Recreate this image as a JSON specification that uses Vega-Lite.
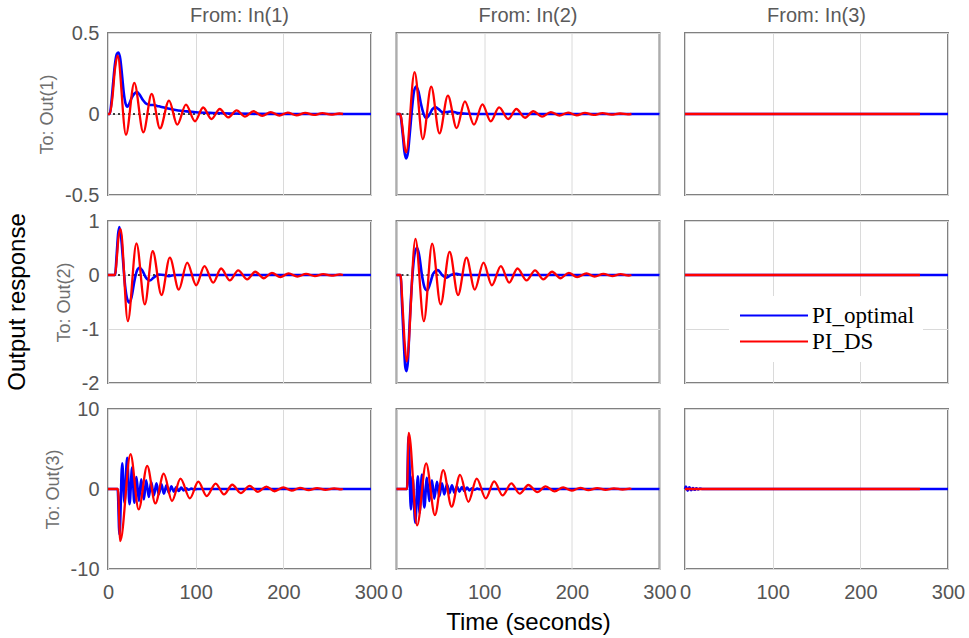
{
"$schema": "https://vega.github.io/schema/vega-lite/v6.json",
"background": "white",
"datasets": {"d": [
{"p":"11","s":"PI_optimal","t":0,"y":0},{"p":"11","s":"PI_optimal","t":2,"y":0},{"p":"11","s":"PI_optimal","t":4,"y":0.08},{"p":"11","s":"PI_optimal","t":6,"y":0.2},{"p":"11","s":"PI_optimal","t":8,"y":0.31},{"p":"11","s":"PI_optimal","t":10,"y":0.37},{"p":"11","s":"PI_optimal","t":12,"y":0.38},{"p":"11","s":"PI_optimal","t":14,"y":0.34},{"p":"11","s":"PI_optimal","t":16,"y":0.24},{"p":"11","s":"PI_optimal","t":18,"y":0.13},{"p":"11","s":"PI_optimal","t":20,"y":0.065},{"p":"11","s":"PI_optimal","t":22,"y":0.045},{"p":"11","s":"PI_optimal","t":24,"y":0.06},{"p":"11","s":"PI_optimal","t":27,"y":0.1},{"p":"11","s":"PI_optimal","t":30,"y":0.125},{"p":"11","s":"PI_optimal","t":33,"y":0.135},{"p":"11","s":"PI_optimal","t":36,"y":0.12},{"p":"11","s":"PI_optimal","t":40,"y":0.085},{"p":"11","s":"PI_optimal","t":44,"y":0.062},{"p":"11","s":"PI_optimal","t":48,"y":0.056},{"p":"11","s":"PI_optimal","t":52,"y":0.056},{"p":"11","s":"PI_optimal","t":56,"y":0.05},{"p":"11","s":"PI_optimal","t":60,"y":0.045},{"p":"11","s":"PI_optimal","t":65,"y":0.038},{"p":"11","s":"PI_optimal","t":70,"y":0.032},{"p":"11","s":"PI_optimal","t":80,"y":0.022},{"p":"11","s":"PI_optimal","t":90,"y":0.016},{"p":"11","s":"PI_optimal","t":100,"y":0.011},{"p":"11","s":"PI_optimal","t":120,"y":0.006},{"p":"11","s":"PI_optimal","t":140,"y":0.003},{"p":"11","s":"PI_optimal","t":170,"y":0.001},{"p":"11","s":"PI_optimal","t":200,"y":0},{"p":"11","s":"PI_optimal","t":300,"y":0},
{"p":"11","s":"PI_DS","t":0,"y":0},{"p":"11","s":"PI_DS","t":2,"y":0},{"p":"11","s":"PI_DS","t":5,"y":0.1},{"p":"11","s":"PI_DS","t":8,"y":0.28},{"p":"11","s":"PI_DS","t":11,"y":0.36},{"p":"11","s":"PI_DS","t":20.5,"y":-0.128},{"p":"11","s":"PI_DS","t":30,"y":0.192},{"p":"11","s":"PI_DS","t":40.3,"y":-0.113},{"p":"11","s":"PI_DS","t":49.8,"y":0.124},{"p":"11","s":"PI_DS","t":59.3,"y":-0.089},{"p":"11","s":"PI_DS","t":69.6,"y":0.083},{"p":"11","s":"PI_DS","t":79,"y":-0.066},{"p":"11","s":"PI_DS","t":88.9,"y":0.058},{"p":"11","s":"PI_DS","t":99.2,"y":-0.045},{"p":"11","s":"PI_DS","t":108.5,"y":0.04},{"p":"11","s":"PI_DS","t":118,"y":-0.031},{"p":"11","s":"PI_DS","t":127.5,"y":0.031},{"p":"11","s":"PI_DS","t":137,"y":-0.021},{"p":"11","s":"PI_DS","t":146.7,"y":0.022},{"p":"11","s":"PI_DS","t":156.3,"y":-0.016},{"p":"11","s":"PI_DS","t":166,"y":0.017},{"p":"11","s":"PI_DS","t":176,"y":-0.012},{"p":"11","s":"PI_DS","t":185.6,"y":0.012},{"p":"11","s":"PI_DS","t":195.5,"y":-0.01},{"p":"11","s":"PI_DS","t":205,"y":0.009},{"p":"11","s":"PI_DS","t":215,"y":-0.008},{"p":"11","s":"PI_DS","t":225,"y":0.007},{"p":"11","s":"PI_DS","t":235,"y":-0.006},{"p":"11","s":"PI_DS","t":244.5,"y":0.005},{"p":"11","s":"PI_DS","t":254.5,"y":-0.004},{"p":"11","s":"PI_DS","t":264,"y":0.003},{"p":"11","s":"PI_DS","t":268,"y":0},
{"p":"12","s":"PI_optimal","t":0,"y":0},{"p":"12","s":"PI_optimal","t":4,"y":0},{"p":"12","s":"PI_optimal","t":7,"y":-0.12},{"p":"12","s":"PI_optimal","t":9,"y":-0.23},{"p":"12","s":"PI_optimal","t":11,"y":-0.274},{"p":"12","s":"PI_optimal","t":13,"y":-0.24},{"p":"12","s":"PI_optimal","t":15,"y":-0.13},{"p":"12","s":"PI_optimal","t":18,"y":0.05},{"p":"12","s":"PI_optimal","t":20,"y":0.14},{"p":"12","s":"PI_optimal","t":22.5,"y":0.169},{"p":"12","s":"PI_optimal","t":25,"y":0.14},{"p":"12","s":"PI_optimal","t":28,"y":0.06},{"p":"12","s":"PI_optimal","t":31,"y":0},{"p":"12","s":"PI_optimal","t":34,"y":-0.025},{"p":"12","s":"PI_optimal","t":38,"y":0},{"p":"12","s":"PI_optimal","t":41,"y":0.03},{"p":"12","s":"PI_optimal","t":44.6,"y":0.041},{"p":"12","s":"PI_optimal","t":48,"y":0.03},{"p":"12","s":"PI_optimal","t":53,"y":0.01},{"p":"12","s":"PI_optimal","t":58,"y":0.012},{"p":"12","s":"PI_optimal","t":62,"y":0.015},{"p":"12","s":"PI_optimal","t":70,"y":0.006},{"p":"12","s":"PI_optimal","t":80,"y":0.002},{"p":"12","s":"PI_optimal","t":100,"y":0},{"p":"12","s":"PI_optimal","t":300,"y":0},
{"p":"12","s":"PI_DS","t":0,"y":0},{"p":"12","s":"PI_DS","t":4,"y":0},{"p":"12","s":"PI_DS","t":11,"y":-0.237},{"p":"12","s":"PI_DS","t":20.6,"y":0.258},{"p":"12","s":"PI_DS","t":30,"y":-0.155},{"p":"12","s":"PI_DS","t":39.6,"y":0.169},{"p":"12","s":"PI_DS","t":49,"y":-0.12},{"p":"12","s":"PI_DS","t":58.6,"y":0.113},{"p":"12","s":"PI_DS","t":68.6,"y":-0.087},{"p":"12","s":"PI_DS","t":78,"y":0.078},{"p":"12","s":"PI_DS","t":88.4,"y":-0.066},{"p":"12","s":"PI_DS","t":98,"y":0.06},{"p":"12","s":"PI_DS","t":107.5,"y":-0.045},{"p":"12","s":"PI_DS","t":117,"y":0.041},{"p":"12","s":"PI_DS","t":127.6,"y":-0.031},{"p":"12","s":"PI_DS","t":136.7,"y":0.031},{"p":"12","s":"PI_DS","t":146.6,"y":-0.023},{"p":"12","s":"PI_DS","t":156,"y":0.017},{"p":"12","s":"PI_DS","t":166,"y":-0.016},{"p":"12","s":"PI_DS","t":176,"y":0.012},{"p":"12","s":"PI_DS","t":186,"y":-0.01},{"p":"12","s":"PI_DS","t":195.7,"y":0.009},{"p":"12","s":"PI_DS","t":205.5,"y":-0.008},{"p":"12","s":"PI_DS","t":215,"y":0.007},{"p":"12","s":"PI_DS","t":225,"y":-0.006},{"p":"12","s":"PI_DS","t":235,"y":0.005},{"p":"12","s":"PI_DS","t":245,"y":-0.004},{"p":"12","s":"PI_DS","t":255,"y":0.003},{"p":"12","s":"PI_DS","t":264,"y":-0.002},{"p":"12","s":"PI_DS","t":268,"y":0},
{"p":"13","s":"PI_optimal","t":0,"y":0},{"p":"13","s":"PI_optimal","t":300,"y":0},
{"p":"13","s":"PI_DS","t":0,"y":0},{"p":"13","s":"PI_DS","t":268,"y":0},
{"p":"21","s":"PI_optimal","t":0,"y":0},{"p":"21","s":"PI_optimal","t":8,"y":0},{"p":"21","s":"PI_optimal","t":10,"y":0.4},{"p":"21","s":"PI_optimal","t":11.5,"y":0.75},{"p":"21","s":"PI_optimal","t":13,"y":0.89},{"p":"21","s":"PI_optimal","t":15,"y":0.7},{"p":"21","s":"PI_optimal","t":17,"y":0.3},{"p":"21","s":"PI_optimal","t":19.5,"y":-0.2},{"p":"21","s":"PI_optimal","t":22,"y":-0.45},{"p":"21","s":"PI_optimal","t":24.4,"y":-0.51},{"p":"21","s":"PI_optimal","t":27,"y":-0.4},{"p":"21","s":"PI_optimal","t":30,"y":-0.12},{"p":"21","s":"PI_optimal","t":33,"y":0.08},{"p":"21","s":"PI_optimal","t":35.9,"y":0.135},{"p":"21","s":"PI_optimal","t":39,"y":0.09},{"p":"21","s":"PI_optimal","t":43,"y":-0.04},{"p":"21","s":"PI_optimal","t":47.7,"y":-0.1},{"p":"21","s":"PI_optimal","t":52,"y":-0.05},{"p":"21","s":"PI_optimal","t":58,"y":0.01},{"p":"21","s":"PI_optimal","t":64,"y":0},{"p":"21","s":"PI_optimal","t":69.4,"y":-0.02},{"p":"21","s":"PI_optimal","t":76,"y":0},{"p":"21","s":"PI_optimal","t":300,"y":0},
{"p":"21","s":"PI_DS","t":0,"y":0},{"p":"21","s":"PI_DS","t":8,"y":0},{"p":"21","s":"PI_DS","t":10,"y":0.3},{"p":"21","s":"PI_DS","t":12,"y":0.7},{"p":"21","s":"PI_DS","t":14.3,"y":0.85},{"p":"21","s":"PI_DS","t":22.6,"y":-0.855},{"p":"21","s":"PI_DS","t":32.5,"y":0.586},{"p":"21","s":"PI_DS","t":42,"y":-0.545},{"p":"21","s":"PI_DS","t":51,"y":0.44},{"p":"21","s":"PI_DS","t":61,"y":-0.37},{"p":"21","s":"PI_DS","t":70.5,"y":0.32},{"p":"21","s":"PI_DS","t":80.8,"y":-0.27},{"p":"21","s":"PI_DS","t":90.3,"y":0.23},{"p":"21","s":"PI_DS","t":100.6,"y":-0.19},{"p":"21","s":"PI_DS","t":110,"y":0.165},{"p":"21","s":"PI_DS","t":120,"y":-0.14},{"p":"21","s":"PI_DS","t":129,"y":0.12},{"p":"21","s":"PI_DS","t":139,"y":-0.1},{"p":"21","s":"PI_DS","t":148.5,"y":0.085},{"p":"21","s":"PI_DS","t":158.8,"y":-0.08},{"p":"21","s":"PI_DS","t":168,"y":0.06},{"p":"21","s":"PI_DS","t":177.7,"y":-0.06},{"p":"21","s":"PI_DS","t":187,"y":0.04},{"p":"21","s":"PI_DS","t":196.6,"y":-0.04},{"p":"21","s":"PI_DS","t":206,"y":0.03},{"p":"21","s":"PI_DS","t":216,"y":-0.03},{"p":"21","s":"PI_DS","t":226,"y":0.02},{"p":"21","s":"PI_DS","t":236,"y":-0.02},{"p":"21","s":"PI_DS","t":245.5,"y":0.015},{"p":"21","s":"PI_DS","t":255,"y":-0.012},{"p":"21","s":"PI_DS","t":264.5,"y":0.01},{"p":"21","s":"PI_DS","t":268,"y":0},
{"p":"22","s":"PI_optimal","t":0,"y":0},{"p":"22","s":"PI_optimal","t":4.5,"y":0},{"p":"22","s":"PI_optimal","t":6.5,"y":-0.6},{"p":"22","s":"PI_optimal","t":8.5,"y":-1.3},{"p":"22","s":"PI_optimal","t":10,"y":-1.7},{"p":"22","s":"PI_optimal","t":11.4,"y":-1.78},{"p":"22","s":"PI_optimal","t":13,"y":-1.6},{"p":"22","s":"PI_optimal","t":15,"y":-0.9},{"p":"22","s":"PI_optimal","t":18,"y":-0.05},{"p":"22","s":"PI_optimal","t":21,"y":0.42},{"p":"22","s":"PI_optimal","t":23.6,"y":0.506},{"p":"22","s":"PI_optimal","t":26,"y":0.35},{"p":"22","s":"PI_optimal","t":29,"y":0},{"p":"22","s":"PI_optimal","t":32,"y":-0.23},{"p":"22","s":"PI_optimal","t":35,"y":-0.285},{"p":"22","s":"PI_optimal","t":38.5,"y":-0.15},{"p":"22","s":"PI_optimal","t":42,"y":0.03},{"p":"22","s":"PI_optimal","t":47.2,"y":0.09},{"p":"22","s":"PI_optimal","t":52,"y":0},{"p":"22","s":"PI_optimal","t":57,"y":-0.05},{"p":"22","s":"PI_optimal","t":62,"y":0},{"p":"22","s":"PI_optimal","t":68.6,"y":0.02},{"p":"22","s":"PI_optimal","t":75,"y":0},{"p":"22","s":"PI_optimal","t":300,"y":0},
{"p":"22","s":"PI_DS","t":0,"y":0},{"p":"22","s":"PI_DS","t":4.5,"y":0},{"p":"22","s":"PI_DS","t":7,"y":-0.6},{"p":"22","s":"PI_DS","t":9.5,"y":-1.3},{"p":"22","s":"PI_DS","t":11.6,"y":-1.6},{"p":"22","s":"PI_DS","t":21.6,"y":0.67},{"p":"22","s":"PI_DS","t":31.2,"y":-0.855},{"p":"22","s":"PI_DS","t":40.7,"y":0.58},{"p":"22","s":"PI_DS","t":50.3,"y":-0.545},{"p":"22","s":"PI_DS","t":60.6,"y":0.43},{"p":"22","s":"PI_DS","t":70.2,"y":-0.37},{"p":"22","s":"PI_DS","t":79.8,"y":0.32},{"p":"22","s":"PI_DS","t":89.3,"y":-0.27},{"p":"22","s":"PI_DS","t":99.2,"y":0.23},{"p":"22","s":"PI_DS","t":108.8,"y":-0.19},{"p":"22","s":"PI_DS","t":119,"y":0.165},{"p":"22","s":"PI_DS","t":128.6,"y":-0.14},{"p":"22","s":"PI_DS","t":138,"y":0.12},{"p":"22","s":"PI_DS","t":148.4,"y":-0.1},{"p":"22","s":"PI_DS","t":158,"y":0.085},{"p":"22","s":"PI_DS","t":167.5,"y":-0.08},{"p":"22","s":"PI_DS","t":177.5,"y":0.06},{"p":"22","s":"PI_DS","t":187,"y":-0.06},{"p":"22","s":"PI_DS","t":196.6,"y":0.04},{"p":"22","s":"PI_DS","t":206,"y":-0.04},{"p":"22","s":"PI_DS","t":216.7,"y":0.03},{"p":"22","s":"PI_DS","t":226,"y":-0.03},{"p":"22","s":"PI_DS","t":236,"y":0.02},{"p":"22","s":"PI_DS","t":246,"y":-0.02},{"p":"22","s":"PI_DS","t":255.6,"y":0.015},{"p":"22","s":"PI_DS","t":265,"y":-0.01},{"p":"22","s":"PI_DS","t":268,"y":0},
{"p":"23","s":"PI_optimal","t":0,"y":0},{"p":"23","s":"PI_optimal","t":300,"y":0},
{"p":"23","s":"PI_DS","t":0,"y":0},{"p":"23","s":"PI_DS","t":268,"y":0},
{"p":"31","s":"PI_optimal","t":0,"y":0},{"p":"31","s":"PI_optimal","t":11,"y":0},{"p":"31","s":"PI_optimal","t":13.1,"y":-5.7},{"p":"31","s":"PI_optimal","t":16.2,"y":3.2},{"p":"31","s":"PI_optimal","t":18.8,"y":-1.7},{"p":"31","s":"PI_optimal","t":21.9,"y":3.9},{"p":"31","s":"PI_optimal","t":24.5,"y":-1.9},{"p":"31","s":"PI_optimal","t":27.6,"y":2.7},{"p":"31","s":"PI_optimal","t":30,"y":-1.7},{"p":"31","s":"PI_optimal","t":32.5,"y":1.5},{"p":"31","s":"PI_optimal","t":35.2,"y":-1.5},{"p":"31","s":"PI_optimal","t":37.9,"y":1.2},{"p":"31","s":"PI_optimal","t":40.9,"y":-1.3},{"p":"31","s":"PI_optimal","t":43.5,"y":1.1},{"p":"31","s":"PI_optimal","t":46.6,"y":-1.0},{"p":"31","s":"PI_optimal","t":49.2,"y":0.9},{"p":"31","s":"PI_optimal","t":52.3,"y":-0.8},{"p":"31","s":"PI_optimal","t":55.3,"y":0.7},{"p":"31","s":"PI_optimal","t":57.9,"y":-0.67},{"p":"31","s":"PI_optimal","t":61,"y":0.58},{"p":"31","s":"PI_optimal","t":63.7,"y":-0.58},{"p":"31","s":"PI_optimal","t":66.7,"y":0.46},{"p":"31","s":"PI_optimal","t":69.4,"y":-0.46},{"p":"31","s":"PI_optimal","t":72.4,"y":0.33},{"p":"31","s":"PI_optimal","t":75,"y":-0.33},{"p":"31","s":"PI_optimal","t":78,"y":0.25},{"p":"31","s":"PI_optimal","t":80.7,"y":-0.25},{"p":"31","s":"PI_optimal","t":83.5,"y":0.17},{"p":"31","s":"PI_optimal","t":86.3,"y":-0.17},{"p":"31","s":"PI_optimal","t":89,"y":0.1},{"p":"31","s":"PI_optimal","t":92,"y":-0.1},{"p":"31","s":"PI_optimal","t":95,"y":0.05},{"p":"31","s":"PI_optimal","t":98,"y":-0.05},{"p":"31","s":"PI_optimal","t":102,"y":0},{"p":"31","s":"PI_optimal","t":300,"y":0},
{"p":"31","s":"PI_DS","t":0,"y":0},{"p":"31","s":"PI_DS","t":11.3,"y":0},{"p":"31","s":"PI_DS","t":14,"y":-6.5},{"p":"31","s":"PI_DS","t":25.7,"y":4.35},{"p":"31","s":"PI_DS","t":35,"y":-2.55},{"p":"31","s":"PI_DS","t":44.7,"y":2.9},{"p":"31","s":"PI_DS","t":54,"y":-1.8},{"p":"31","s":"PI_DS","t":63.6,"y":1.93},{"p":"31","s":"PI_DS","t":73,"y":-1.5},{"p":"31","s":"PI_DS","t":82.7,"y":1.3},{"p":"31","s":"PI_DS","t":93.4,"y":-1.17},{"p":"31","s":"PI_DS","t":103,"y":0.92},{"p":"31","s":"PI_DS","t":112.6,"y":-0.88},{"p":"31","s":"PI_DS","t":122.8,"y":0.68},{"p":"31","s":"PI_DS","t":132.3,"y":-0.67},{"p":"31","s":"PI_DS","t":141.8,"y":0.53},{"p":"31","s":"PI_DS","t":151.4,"y":-0.5},{"p":"31","s":"PI_DS","t":161.5,"y":0.4},{"p":"31","s":"PI_DS","t":171,"y":-0.35},{"p":"31","s":"PI_DS","t":180.7,"y":0.3},{"p":"31","s":"PI_DS","t":190,"y":-0.28},{"p":"31","s":"PI_DS","t":200,"y":0.2},{"p":"31","s":"PI_DS","t":209.5,"y":-0.2},{"p":"31","s":"PI_DS","t":219,"y":0.15},{"p":"31","s":"PI_DS","t":229,"y":-0.14},{"p":"31","s":"PI_DS","t":238.5,"y":0.11},{"p":"31","s":"PI_DS","t":248,"y":-0.1},{"p":"31","s":"PI_DS","t":258,"y":0.08},{"p":"31","s":"PI_DS","t":266,"y":-0.05},{"p":"31","s":"PI_DS","t":268,"y":0},
{"p":"32","s":"PI_optimal","t":0,"y":0},{"p":"32","s":"PI_optimal","t":12,"y":0},{"p":"32","s":"PI_optimal","t":13.7,"y":6.6},{"p":"32","s":"PI_optimal","t":16.4,"y":-2.55},{"p":"32","s":"PI_optimal","t":18.3,"y":1.6},{"p":"32","s":"PI_optimal","t":21.4,"y":-4.2},{"p":"32","s":"PI_optimal","t":24.4,"y":1.6},{"p":"32","s":"PI_optimal","t":26.3,"y":-3.0},{"p":"32","s":"PI_optimal","t":29,"y":1.8},{"p":"32","s":"PI_optimal","t":31.7,"y":-2.3},{"p":"32","s":"PI_optimal","t":34.7,"y":1.4},{"p":"32","s":"PI_optimal","t":37.4,"y":-1.5},{"p":"32","s":"PI_optimal","t":40.4,"y":1.1},{"p":"32","s":"PI_optimal","t":43.1,"y":-1.2},{"p":"32","s":"PI_optimal","t":46.2,"y":0.9},{"p":"32","s":"PI_optimal","t":48.8,"y":-0.9},{"p":"32","s":"PI_optimal","t":51.9,"y":0.7},{"p":"32","s":"PI_optimal","t":54.5,"y":-0.67},{"p":"32","s":"PI_optimal","t":57.6,"y":0.58},{"p":"32","s":"PI_optimal","t":60.3,"y":-0.54},{"p":"32","s":"PI_optimal","t":63.3,"y":0.46},{"p":"32","s":"PI_optimal","t":66,"y":-0.46},{"p":"32","s":"PI_optimal","t":69,"y":0.33},{"p":"32","s":"PI_optimal","t":71.7,"y":-0.33},{"p":"32","s":"PI_optimal","t":74.7,"y":0.25},{"p":"32","s":"PI_optimal","t":77.4,"y":-0.25},{"p":"32","s":"PI_optimal","t":80.5,"y":0.17},{"p":"32","s":"PI_optimal","t":83.2,"y":-0.17},{"p":"32","s":"PI_optimal","t":86,"y":0.1},{"p":"32","s":"PI_optimal","t":89,"y":-0.1},{"p":"32","s":"PI_optimal","t":92,"y":0.05},{"p":"32","s":"PI_optimal","t":95,"y":-0.04},{"p":"32","s":"PI_optimal","t":99,"y":0},{"p":"32","s":"PI_optimal","t":300,"y":0},
{"p":"32","s":"PI_DS","t":0,"y":0},{"p":"32","s":"PI_DS","t":12,"y":0},{"p":"32","s":"PI_DS","t":14,"y":7.0},{"p":"32","s":"PI_DS","t":23.5,"y":-4.55},{"p":"32","s":"PI_DS","t":33.8,"y":3.2},{"p":"32","s":"PI_DS","t":43.8,"y":-3.25},{"p":"32","s":"PI_DS","t":53.3,"y":2.35},{"p":"32","s":"PI_DS","t":62.9,"y":-2.2},{"p":"32","s":"PI_DS","t":72.5,"y":1.76},{"p":"32","s":"PI_DS","t":82,"y":-1.6},{"p":"32","s":"PI_DS","t":91.5,"y":1.3},{"p":"32","s":"PI_DS","t":101.8,"y":-1.17},{"p":"32","s":"PI_DS","t":111.4,"y":0.95},{"p":"32","s":"PI_DS","t":121,"y":-0.8},{"p":"32","s":"PI_DS","t":131,"y":0.7},{"p":"32","s":"PI_DS","t":140.5,"y":-0.58},{"p":"32","s":"PI_DS","t":150.4,"y":0.5},{"p":"32","s":"PI_DS","t":160.7,"y":-0.4},{"p":"32","s":"PI_DS","t":170,"y":0.33},{"p":"32","s":"PI_DS","t":180.4,"y":-0.3},{"p":"32","s":"PI_DS","t":190,"y":0.2},{"p":"32","s":"PI_DS","t":199.8,"y":-0.2},{"p":"32","s":"PI_DS","t":209.5,"y":0.15},{"p":"32","s":"PI_DS","t":219,"y":-0.14},{"p":"32","s":"PI_DS","t":229,"y":0.11},{"p":"32","s":"PI_DS","t":238.5,"y":-0.1},{"p":"32","s":"PI_DS","t":248,"y":0.08},{"p":"32","s":"PI_DS","t":258,"y":-0.06},{"p":"32","s":"PI_DS","t":266,"y":0.04},{"p":"32","s":"PI_DS","t":268,"y":0},
{"p":"33","s":"PI_optimal","t":0,"y":0},{"p":"33","s":"PI_optimal","t":1,"y":0.3},{"p":"33","s":"PI_optimal","t":3,"y":-0.2},{"p":"33","s":"PI_optimal","t":5,"y":0.2},{"p":"33","s":"PI_optimal","t":7,"y":-0.15},{"p":"33","s":"PI_optimal","t":9,"y":0.12},{"p":"33","s":"PI_optimal","t":11,"y":-0.1},{"p":"33","s":"PI_optimal","t":13,"y":0.08},{"p":"33","s":"PI_optimal","t":15,"y":-0.06},{"p":"33","s":"PI_optimal","t":17,"y":0.05},{"p":"33","s":"PI_optimal","t":20,"y":0},{"p":"33","s":"PI_optimal","t":300,"y":0},
{"p":"33","s":"PI_DS","t":0,"y":0},{"p":"33","s":"PI_DS","t":268,"y":0}
]},
"data": {"name": "d"},
"title": {"text": "Output response", "orient": "left", "anchor": "middle", "fontSize": 24, "fontWeight": "normal", "color": "black", "font": "Liberation Sans", "offset": 8, "dx": 18},
"columns": 3,
"spacing": {"row": 26, "column": 25.5},
"bounds": "flush",
"resolve": {"legend": {"color": "independent"}},
"config": {
  "font": "Liberation Sans",
  "view": {"stroke": "#808080", "strokeWidth": 2},
  "axis": {"grid": true, "gridColor": "#dadada", "gridWidth": 1, "domain": false, "ticks": false, "labelFontSize": 20, "labelColor": "#555555", "labelPadding": 9, "labelFont": "Liberation Sans", "titleFont": "Liberation Sans", "titleFontWeight": "normal", "titleColor": "#6e6e6e", "titleFontSize": 18, "titlePadding": 8},
  "line": {"interpolate": "monotone"}
},
"concat": [
 {"width": 263, "height": 162, "title": {"text": "From: In(1)", "fontSize": 20, "fontWeight": "normal", "color": "#5a5a5a", "offset": -3},
  "transform": [{"filter": "datum.p == '11'"}],
  "encoding": {"x": {"field": "t", "type": "quantitative", "scale": {"domain": [0, 300], "nice": false}, "axis": {"values": [0, 100, 200, 300], "labels": false, "title": null}},
   "y": {"field": "y", "type": "quantitative", "scale": {"domain": [-0.5, 0.5], "nice": false, "zero": false}, "axis": {"values": [-0.5, 0, 0.5], "labelExpr": "'' + datum.value", "title": "To: Out(1)"}},
   "color": {"field": "s", "type": "nominal", "scale": {"domain": ["PI_optimal", "PI_DS"], "range": ["#0000ff", "#ff0000"]}, "legend": null}},
  "layer": [
   {"transform": [{"filter": "datum.t == 0 && datum.s == 'PI_optimal'"}], "mark": {"type": "rule", "strokeDash": [2, 3], "strokeWidth": 1.5}, "encoding": {"x": {"datum": 0}, "x2": {"datum": 300}, "y": {"datum": 0}, "color": {"value": "black"}}},
   {"transform": [{"filter": "datum.s == 'PI_optimal'"}], "mark": {"type": "line", "strokeWidth": 2.6}},
   {"transform": [{"filter": "datum.s == 'PI_DS'"}], "mark": {"type": "line", "strokeWidth": 2.3}}
  ]},
 {"width": 263, "height": 162, "title": {"text": "From: In(2)", "fontSize": 20, "fontWeight": "normal", "color": "#5a5a5a", "offset": 7},
  "transform": [{"filter": "datum.p == '12'"}],
  "encoding": {"x": {"field": "t", "type": "quantitative", "scale": {"domain": [0, 300], "nice": false}, "axis": {"values": [0, 100, 200, 300], "labels": false, "title": null}},
   "y": {"field": "y", "type": "quantitative", "scale": {"domain": [-0.5, 0.5], "nice": false, "zero": false}, "axis": {"values": [-0.5, 0, 0.5], "labels": false, "title": null}},
   "color": {"field": "s", "type": "nominal", "scale": {"domain": ["PI_optimal", "PI_DS"], "range": ["#0000ff", "#ff0000"]}, "legend": null}},
  "layer": [
   {"transform": [{"filter": "datum.t == 0 && datum.s == 'PI_optimal'"}], "mark": {"type": "rule", "strokeDash": [2, 3], "strokeWidth": 1.5}, "encoding": {"x": {"datum": 0}, "x2": {"datum": 300}, "y": {"datum": 0}, "color": {"value": "black"}}},
   {"transform": [{"filter": "datum.s == 'PI_optimal'"}], "mark": {"type": "line", "strokeWidth": 2.6}},
   {"transform": [{"filter": "datum.s == 'PI_DS'"}], "mark": {"type": "line", "strokeWidth": 2.3}}
  ]},
 {"width": 263, "height": 162, "title": {"text": "From: In(3)", "fontSize": 20, "fontWeight": "normal", "color": "#5a5a5a", "offset": 7},
  "transform": [{"filter": "datum.p == '13'"}],
  "encoding": {"x": {"field": "t", "type": "quantitative", "scale": {"domain": [0, 300], "nice": false}, "axis": {"values": [0, 100, 200, 300], "labels": false, "title": null}},
   "y": {"field": "y", "type": "quantitative", "scale": {"domain": [-0.5, 0.5], "nice": false, "zero": false}, "axis": {"values": [-0.5, 0, 0.5], "labels": false, "title": null}},
   "color": {"field": "s", "type": "nominal", "scale": {"domain": ["PI_optimal", "PI_DS"], "range": ["#0000ff", "#ff0000"]}, "legend": null}},
  "layer": [
   {"transform": [{"filter": "datum.s == 'PI_optimal'"}], "mark": {"type": "line", "strokeWidth": 2.6}},
   {"transform": [{"filter": "datum.s == 'PI_DS'"}], "mark": {"type": "line", "strokeWidth": 2.3}}
  ]},
 {"width": 263, "height": 162,
  "transform": [{"filter": "datum.p == '21'"}],
  "encoding": {"x": {"field": "t", "type": "quantitative", "scale": {"domain": [0, 300], "nice": false}, "axis": {"values": [0, 100, 200, 300], "labels": false, "title": null}},
   "y": {"field": "y", "type": "quantitative", "scale": {"domain": [-2, 1], "nice": false, "zero": false}, "axis": {"values": [-2, -1, 0, 1], "labelExpr": "'' + datum.value", "title": "To: Out(2)"}},
   "color": {"field": "s", "type": "nominal", "scale": {"domain": ["PI_optimal", "PI_DS"], "range": ["#0000ff", "#ff0000"]}, "legend": null}},
  "layer": [
   {"transform": [{"filter": "datum.t == 0 && datum.s == 'PI_optimal'"}], "mark": {"type": "rule", "strokeDash": [2, 3], "strokeWidth": 1.5}, "encoding": {"x": {"datum": 0}, "x2": {"datum": 300}, "y": {"datum": 0}, "color": {"value": "black"}}},
   {"transform": [{"filter": "datum.s == 'PI_optimal'"}], "mark": {"type": "line", "strokeWidth": 2.6}},
   {"transform": [{"filter": "datum.s == 'PI_DS'"}], "mark": {"type": "line", "strokeWidth": 2.3}}
  ]},
 {"width": 263, "height": 162,
  "transform": [{"filter": "datum.p == '22'"}],
  "encoding": {"x": {"field": "t", "type": "quantitative", "scale": {"domain": [0, 300], "nice": false}, "axis": {"values": [0, 100, 200, 300], "labels": false, "title": null}},
   "y": {"field": "y", "type": "quantitative", "scale": {"domain": [-2, 1], "nice": false, "zero": false}, "axis": {"values": [-2, -1, 0, 1], "labels": false, "title": null}},
   "color": {"field": "s", "type": "nominal", "scale": {"domain": ["PI_optimal", "PI_DS"], "range": ["#0000ff", "#ff0000"]}, "legend": null}},
  "layer": [
   {"transform": [{"filter": "datum.t == 0 && datum.s == 'PI_optimal'"}], "mark": {"type": "rule", "strokeDash": [2, 3], "strokeWidth": 1.5}, "encoding": {"x": {"datum": 0}, "x2": {"datum": 300}, "y": {"datum": 0}, "color": {"value": "black"}}},
   {"transform": [{"filter": "datum.s == 'PI_optimal'"}], "mark": {"type": "line", "strokeWidth": 2.6}},
   {"transform": [{"filter": "datum.s == 'PI_DS'"}], "mark": {"type": "line", "strokeWidth": 2.3}}
  ]},
 {"width": 263, "height": 162,
  "transform": [{"filter": "datum.p == '23'"}],
  "encoding": {"x": {"field": "t", "type": "quantitative", "scale": {"domain": [0, 300], "nice": false}, "axis": {"values": [0, 100, 200, 300], "labels": false, "title": null}},
   "y": {"field": "y", "type": "quantitative", "scale": {"domain": [-2, 1], "nice": false, "zero": false}, "axis": {"values": [-2, -1, 0, 1], "labels": false, "title": null}},
   "color": {"field": "s", "type": "nominal", "scale": {"domain": ["PI_optimal", "PI_DS"], "range": ["#0000ff", "#ff0000"]},
     "legend": {"orient": "none", "legendX": 44, "legendY": 75, "title": null, "symbolType": "M-1,0H7", "symbolSize": 289, "symbolStrokeWidth": 2, "labelFont": "Liberation Serif", "labelFontSize": 23, "labelColor": "black", "fillColor": "white", "padding": 8, "rowPadding": 2, "labelOffset": 52, "labelLimit": 300}}},
  "layer": [
   {"transform": [{"filter": "datum.s == 'PI_optimal'"}], "mark": {"type": "line", "strokeWidth": 2.6}},
   {"transform": [{"filter": "datum.s == 'PI_DS'"}], "mark": {"type": "line", "strokeWidth": 2.3}}
  ]},
 {"width": 263, "height": 160,
  "transform": [{"filter": "datum.p == '31'"}],
  "encoding": {"x": {"field": "t", "type": "quantitative", "scale": {"domain": [0, 300], "nice": false}, "axis": {"values": [0, 100, 200, 300], "labelFlush": false, "labelPadding": 13, "title": null}},
   "y": {"field": "y", "type": "quantitative", "scale": {"domain": [-10, 10], "nice": false, "zero": false}, "axis": {"values": [-10, 0, 10], "labelExpr": "'' + datum.value", "title": "To: Out(3)"}},
   "color": {"field": "s", "type": "nominal", "scale": {"domain": ["PI_optimal", "PI_DS"], "range": ["#0000ff", "#ff0000"]}, "legend": null}},
  "layer": [
   {"transform": [{"filter": "datum.s == 'PI_optimal'"}], "mark": {"type": "line", "strokeWidth": 2.6}},
   {"transform": [{"filter": "datum.s == 'PI_DS'"}], "mark": {"type": "line", "strokeWidth": 2.3}}
  ]},
 {"width": 263, "height": 160,
  "transform": [{"filter": "datum.p == '32'"}],
  "encoding": {"x": {"field": "t", "type": "quantitative", "scale": {"domain": [0, 300], "nice": false}, "axis": {"values": [0, 100, 200, 300], "labelFlush": false, "labelPadding": 13, "title": "Time (seconds)", "titleFontSize": 24, "titleColor": "black", "titlePadding": 8}},
   "y": {"field": "y", "type": "quantitative", "scale": {"domain": [-10, 10], "nice": false, "zero": false}, "axis": {"values": [-10, 0, 10], "labels": false, "title": null}},
   "color": {"field": "s", "type": "nominal", "scale": {"domain": ["PI_optimal", "PI_DS"], "range": ["#0000ff", "#ff0000"]}, "legend": null}},
  "layer": [
   {"transform": [{"filter": "datum.s == 'PI_optimal'"}], "mark": {"type": "line", "strokeWidth": 2.6}},
   {"transform": [{"filter": "datum.s == 'PI_DS'"}], "mark": {"type": "line", "strokeWidth": 2.3}}
  ]},
 {"width": 263, "height": 160,
  "transform": [{"filter": "datum.p == '33'"}],
  "encoding": {"x": {"field": "t", "type": "quantitative", "scale": {"domain": [0, 300], "nice": false}, "axis": {"values": [0, 100, 200, 300], "labelFlush": false, "labelPadding": 13, "title": null}},
   "y": {"field": "y", "type": "quantitative", "scale": {"domain": [-10, 10], "nice": false, "zero": false}, "axis": {"values": [-10, 0, 10], "labels": false, "title": null}},
   "color": {"field": "s", "type": "nominal", "scale": {"domain": ["PI_optimal", "PI_DS"], "range": ["#0000ff", "#ff0000"]}, "legend": null}},
  "layer": [
   {"transform": [{"filter": "datum.s == 'PI_optimal'"}], "mark": {"type": "line", "strokeWidth": 2.6}},
   {"transform": [{"filter": "datum.s == 'PI_DS'"}], "mark": {"type": "line", "strokeWidth": 2.3}}
  ]}
]
}
